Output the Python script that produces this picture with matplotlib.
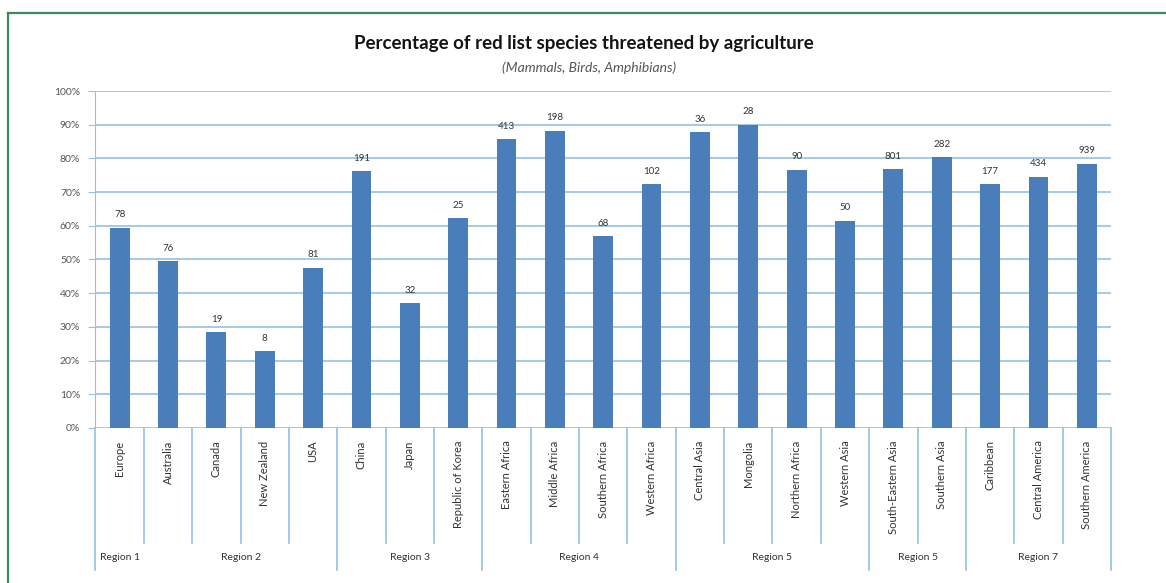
"""Bar chart: percentage of red list species threatened by agriculture."""

import matplotlib

matplotlib.use("Agg")
import matplotlib.pyplot as plt
from matplotlib.lines import Line2D
from matplotlib.transforms import blended_transform_factory

BAR = "#4a7ebb"
GRID = "#92c2e2"
INK = "#333333"
INK_MUTED = "#555555"
FRAME = "#3f8a5a"

CATEGORIES = [
    "Europe", "Australia", "Canada", "New Zealand", "USA", "China", "Japan",
    "Republic of Korea", "Eastern Africa", "Middle Africa", "Southern Africa",
    "Western Africa", "Central Asia", "Mongolia", "Northern Africa",
    "Western Asia", "South-Eastern Asia", "Southern Asia", "Caribbean",
    "Central America", "Southern America",
]
PERCENT = [
    59.4, 49.5, 28.4, 22.7, 47.6, 76.2, 37.1, 62.3, 85.8, 88.2, 56.9,
    72.3, 87.7, 90.0, 76.7, 61.5, 76.8, 80.3, 72.3, 74.6, 78.4,
]
COUNTS = [
    "78", "76", "19", "8", "81", "191", "32", "25", "413", "198", "68",
    "102", "36", "28", "90", "50", "801", "282", "177", "434", "939",
]
REGIONS = ["Region 1", "Region 2", "Region 3", "Region 4", "Region 5", "Region 5", "Region 7"]
REGION_SIZES = [1, 4, 3, 4, 4, 2, 3]
YTICKS = [0, 10, 20, 30, 40, 50, 60, 70, 80, 90, 100]

plt.rcParams["font.family"] = ["Lato", "DejaVu Sans"]

fig = plt.figure(figsize=(11.66, 5.83), dpi=100)
fig.set_facecolor("white")
ax = fig.add_axes([0.0819, 0.2659, 0.8709, 0.578])

x = list(range(len(CATEGORIES)))
bars = ax.bar(x, PERCENT, width=0.41, color=BAR, zorder=3)
for rect, txt in zip(bars, COUNTS):
    ax.annotate(txt, xy=(rect.get_x() + rect.get_width() / 2, rect.get_height()),
                xytext=(0, 6), textcoords="offset points", ha="center", va="bottom",
                fontsize=7, color=INK)

ax.set_xlim(-0.5, len(CATEGORIES) - 0.5)
ax.set_ylim(0, 100)
ax.set_yticks(YTICKS)
ax.set_yticklabels([f"{v}%" for v in YTICKS])
ax.yaxis.grid(True, color=GRID, linewidth=1.2, zorder=0)
ax.set_axisbelow(True)
for side in ("top", "right", "bottom"):
    ax.spines[side].set_visible(False)
ax.spines["left"].set_color(GRID)
ax.tick_params(axis="y", colors=GRID, labelcolor=INK_MUTED, labelsize=7.5, length=5, pad=6)

ax.set_xticks(x)
ax.set_xticklabels(CATEGORIES, rotation=90, va="top", ha="center", fontsize=8, color=INK)
ax.tick_params(axis="x", length=0, pad=9)

# category separators and multi-level region row below the axis
trans = blended_transform_factory(ax.transData, fig.transFigure)
y_axis0 = 0.2659
y_short = 1 - 543 / 583
y_long = 1 - 570 / 583
y_region = 1 - 558 / 583
group_edges = [-0.5]
for n in REGION_SIZES:
    group_edges.append(group_edges[-1] + n)
for k in range(len(CATEGORIES) + 1):
    edge = k - 0.5
    full = edge in group_edges[2:] or k == 0
    ax.plot([edge, edge], [y_axis0, y_long if full else y_short], transform=trans,
            color=GRID, linewidth=1.2, clip_on=False)
for name, a, b in zip(REGIONS, group_edges[:-1], group_edges[1:]):
    ax.text((a + b) / 2, y_region, name, transform=trans, ha="center", va="center",
            fontsize=7.5, color=INK)

fig.text(0.501, 1 - 44 / 583, "Percentage of red list species threatened by agriculture",
         ha="center", va="center", fontsize=13.5, fontweight="bold", color="#141414")
fig.text(0.505, 1 - 68 / 583, "(Mammals, Birds, Amphibians)", ha="center", va="center",
         fontsize=10, fontstyle="italic", color=INK_MUTED)

# green frame (top and left edges only)
fx, fy = 8 / 1166, 1 - 13 / 583
fig.add_artist(Line2D([fx, 1.0], [fy, fy], color=FRAME, linewidth=1.6))
fig.add_artist(Line2D([fx, fx], [fy, 0.0], color=FRAME, linewidth=1.6))

fig.savefig("out.png", dpi=100, facecolor=fig.get_facecolor())
